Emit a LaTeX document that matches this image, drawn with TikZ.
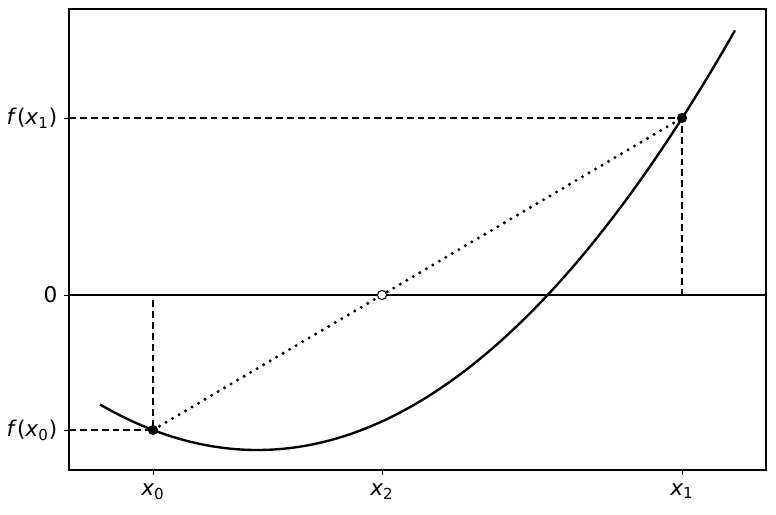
\documentclass[tikz,border=0pt]{standalone}
\usepackage{fontspec}
\setmainfont{DejaVu Sans}
\usetikzlibrary{positioning}

\tikzset{
	guide/.style={line width=0.95pt, dash pattern=on 3.9pt off 2.3pt},
	secant/.style={line width=1.9pt, dash pattern=on 0pt off 4.3pt, line cap=round},
	ticklbl/.style={font=\fontsize{12.3}{14}\selectfont, inner sep=0pt},
	tickmark/.style={line width=0.55pt}
}
\newcommand{\fx}[1]{\textit{f}(\textit{x}\textsubscript{#1})}
\newcommand{\xs}[1]{\textit{x}\textsubscript{#1}}

\begin{document}
\begin{tikzpicture}[x=0.02cm, y=0.02cm]
	\useasboundingbox (0,0) rectangle (776,514);
	
	% frame and key points
	\coordinate (ll) at (69,44);
	\coordinate (ur) at (766,505);
	\coordinate (p0) at (153,84);
	\coordinate (p1) at (682,396);
	\coordinate (p2) at (382,219);
	\coordinate (z0) at (153,219);
	\coordinate (z1) at (682,219);
	\coordinate (l0) at (69,84);
	\coordinate (l1) at (69,396);
	
	\draw[line width=0.6pt] (ll) rectangle (ur);
	\draw[line width=1.1pt] (69,219) -- (766,219);
	
	% ticks
	\foreach \xx/\lab in {153/0, 382/2, 682/1}
		\draw[tickmark] (\xx,44) -- (\xx,39) node[ticklbl, below=4.5pt] {\xs{\lab}};
	\draw[tickmark] (69,396) -- (64,396) node[ticklbl, left=3.5pt] {\fx{1}};
	\draw[tickmark] (69,219) -- (64,219) node[ticklbl, left=3.5pt] {0};
	\draw[tickmark] (69,84) -- (64,84) node[ticklbl, left=3.5pt] {\fx{0}};
	
	\draw[guide] (l1) -- (p1) -- (z1);
	\draw[guide] (l0) -- (p0) -- (z0);
	
	\draw[secant] (p0) -- (p1);
	
	\draw[line width=1.35pt, smooth, samples=120, domain=100:735]
		plot (\x, {64 + 0.1839*((\x-257.3)/10)^2});
	
	\fill (p0) circle[radius=2.9pt];
	\fill (p1) circle[radius=2.9pt];
	\filldraw[fill=white, line width=0.6pt] (p2) circle[radius=2.6pt];
\end{tikzpicture}
\end{document}
